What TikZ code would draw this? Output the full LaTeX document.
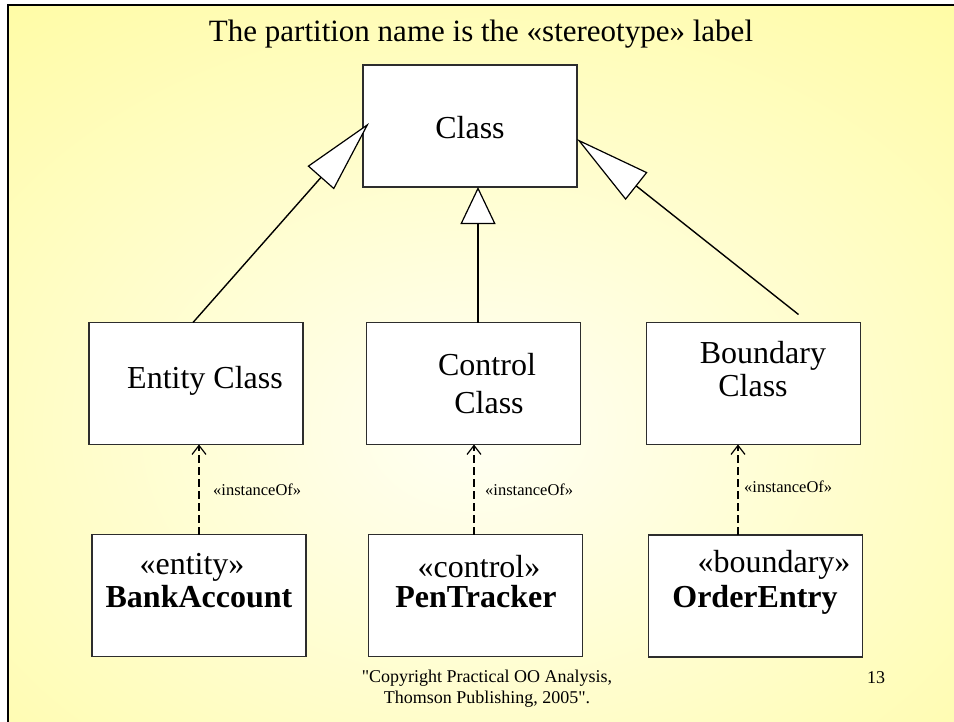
\documentclass[tikz,border=0pt]{standalone}
\usepackage{fontspec}
\setmainfont{Liberation Serif}
\newfontfamily\footfont[Ligatures=TeXOff]{Liberation Serif}
\usetikzlibrary{arrows.meta}
\definecolor{slideyellow}{RGB}{255,251,150}
\definecolor{slideglow}{RGB}{255,255,244}
\definecolor{boxline}{RGB}{45,45,45}

\begin{document}
\begin{tikzpicture}[x=1pt,y=-1pt,
  umlbox/.style={draw=boxline, line width=1.3pt, fill=white,
    minimum width=214pt, minimum height=122pt, inner sep=0pt, outer sep=0pt},
  bigtext/.style={font=\fontsize{32}{38}\selectfont, anchor=base, inner sep=0pt},
  boldtext/.style={bigtext, font=\fontsize{32}{38}\selectfont\bfseries},
  smalltext/.style={font=\footfont\fontsize{18}{21}\selectfont, anchor=base, inner sep=0pt},
  labeltext/.style={font=\fontsize{16.5}{20}\selectfont, anchor=base west, inner sep=0pt},
  generalize/.style={line width=1.4pt,
    -{Triangle[length=#1, width=35pt, fill=white, line width=1.2pt]}},
  realize/.style={line width=1.1pt, dash pattern=on 8pt off 4pt,
    -{Straight Barb[length=9pt, width=14pt, line width=1.2pt]}}]

  % page and slide background
  \useasboundingbox (0,0) rectangle (954,721);
  \fill[white] (0,0) rectangle (954,721);
  \begin{scope}
    \clip (8,5) rectangle (954,721);
    \fill[slideyellow] (8,5) rectangle (954,721);
    \shade[inner color=slideglow, outer color=slideyellow]
      (478-900,430-660) rectangle (478+900,430+660);
  \end{scope}
  \draw[line width=2.6pt, black] (8,740) -- (8,5) -- (970,5);

  % title
  \node[bigtext, font=\fontsize{31}{36}\selectfont] (title) at (481,41)
    {The partition name is the «stereotype» label};

  % class boxes
  \node[umlbox] (cls) at (470,126) {};
  \node[bigtext] (clsT) at (470,138) {Class};

  \node[umlbox] (ent) at (196,383.5) {};
  \node[bigtext] (entT) at (205,388) {Entity Class};

  \node[umlbox] (ctl) at (473.5,383.5) {};
  \node[bigtext] (ctlT1) at (487,375) {Control};
  \node[bigtext] (ctlT2) at (489,413) {Class};

  \node[umlbox] (bnd) at (753.5,383.5) {};
  \node[bigtext] (bndT1) at (763,363) {Boundary};
  \node[bigtext] (bndT2) at (753,396) {Class};

  % instance boxes
  \node[umlbox] (bank) at (199,595.5) {};
  \node[bigtext] (bankS) at (192,574) {«entity»};
  \node[boldtext] (bankN) at (199,607) {BankAccount};

  \node[umlbox] (pen) at (475.5,595.5) {};
  \node[bigtext] (penS) at (479,577) {«control»};
  \node[boldtext] (penN) at (476,607) {PenTracker};

  \node[umlbox] (ord) at (755.5,596) {};
  \node[bigtext] (ordS) at (774,572) {«boundary»};
  \node[boldtext] (ordN) at (755,607) {OrderEntry};

  % generalizations
  \draw[generalize=73pt] ([xshift=-3pt]ent.north) -- ([xshift=6pt,yshift=3pt]cls.west);
  \draw[generalize=37pt] ([xshift=4.5pt]ctl.north) -- ([xshift=8pt]cls.south);
  \draw[generalize=76pt] ([xshift=45pt,yshift=8pt]bnd.north) -- ([yshift=-13pt]cls.east);

  % instanceOf dependencies
  \draw[realize] (bank.north) -- (bank.north |- ent.south);
  \draw[realize] ([xshift=-1.5pt]pen.north) -- ([xshift=-1.5pt]pen.north |- ctl.south);
  \draw[realize] ([xshift=-17.5pt]ord.north) -- ([xshift=-17.5pt]ord.north |- bnd.south);

  \node[labeltext] (lab1) at (213,495) {«instanceOf»};
  \node[labeltext] (lab2) at (485,495) {«instanceOf»};
  \node[labeltext] (lab3) at (744,492) {«instanceOf»};

  % footer
  \node[smalltext] (copy1) at (487,682) {"Copyright Practical OO Analysis,};
  \node[smalltext] (copy2) at (487,703) {Thomson Publishing, 2005".};
  \node[smalltext] (page) at (876,683) {13};
\end{tikzpicture}
\end{document}
